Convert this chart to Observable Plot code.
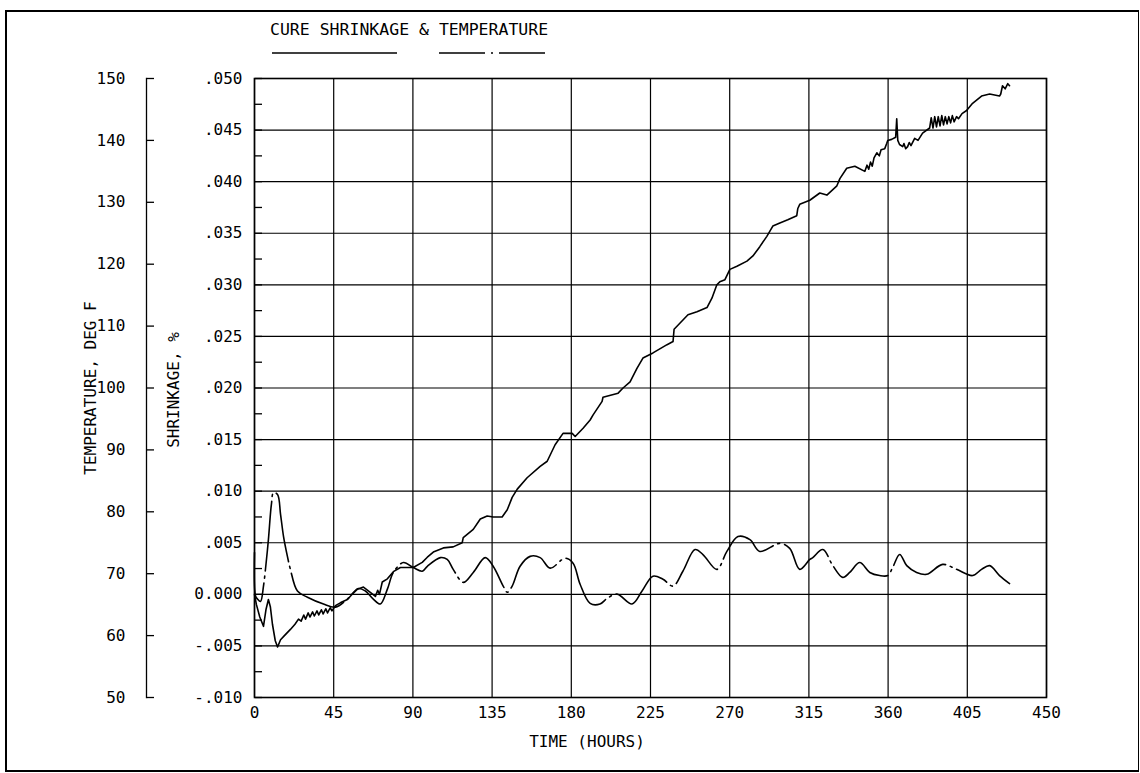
<!DOCTYPE html>
<html>
<head>
<meta charset="utf-8">
<script src="https://cdn.jsdelivr.net/npm/d3@7"></script>
<script src="https://cdn.jsdelivr.net/npm/@observablehq/plot@0.6"></script>
<style>
  body { margin: 0; background: #fff; }
  #wrap { position: relative; width: 1140px; height: 773px; font-family: "DejaVu Sans Mono", monospace; color: #000; overflow: hidden; }
  #border { position: absolute; left: 5px; top: 10px; width: 1134px; height: 762px; border: 2px solid #000; border-right-width: 1px; box-sizing: border-box; }
  #chart { position: absolute; left: 0; top: 0; }
  .t { position: absolute; font-size: 16px; line-height: 1; white-space: nowrap; }
  .rot { transform: translate(-50%, -50%) rotate(-90deg); }
  .ctr { transform: translate(-50%, -50%); }
</style>
</head>
<body>
<div id="wrap">
  <div id="border"></div>
  <div id="chart"></div>
  <div class="t" style="left:270px; top:22px; font-size:16.5px;">CURE SHRINKAGE &amp; TEMPERATURE</div>
  <svg style="position:absolute; left:0; top:45px;" width="600" height="16">
    <line x1="272" x2="397" y1="8" y2="8" stroke="#000" stroke-width="1.5"></line>
    <line x1="439" x2="547" y1="8" y2="8" stroke="#000" stroke-width="1.5" stroke-dasharray="46,6,2,6"></line>
  </svg>
  <div class="t rot" style="left:91px; top:388px;">TEMPERATURE, DEG F</div>
  <div class="t rot" style="left:174px; top:390px;">SHRINKAGE, %</div>
  <div class="t ctr" style="left:587px; top:742px;">TIME (HOURS)</div>
</div>
<script>
// ---- data ----
const xTicks = [0, 45, 90, 135, 180, 225, 270, 315, 360, 405, 450];
const shrinkTicks = [-0.010, -0.005, 0, 0.005, 0.010, 0.015, 0.020, 0.025, 0.030, 0.035, 0.040, 0.045, 0.050];
const shrinkMinorTicks = [-0.010, -0.0075, -0.005, -0.0025, 0, 0.0025, 0.005, 0.0075, 0.010, 0.0125, 0.015, 0.0175, 0.020, 0.0225, 0.025, 0.0275, 0.030, 0.0325, 0.035, 0.0375, 0.040, 0.0425, 0.045, 0.0475, 0.050];
const tempTicks = [50, 60, 70, 80, 90, 100, 110, 120, 130, 140, 150];

// cure shrinkage (%), solid line
const shrinkHours = [0, 1.1, 3, 5.1, 6.5, 7.9, 9, 10.2, 11.8, 13.1, 14.8, 17, 20.4, 23, 25.0, 26.5, 28, 29, 30.5, 31.5, 33, 34, 35.5, 36.5, 38, 39, 40.5, 41.5, 43, 44, 46.0, 49, 52.8, 56, 58.5, 61.9, 65.8, 68.7, 70, 71, 72.6, 75.5, 78.9, 82.9, 90.2, 95.3, 98.2, 101.6, 107.3, 112.9, 118.0, 118.6, 124.3, 128.3, 132.2, 135.6, 140.7, 143.6, 146.4, 149.3, 154.9, 162.3, 166.3, 170.8, 175.3, 180.5, 182.2, 186.7, 190.7, 192.4, 197.5, 198.0, 206.6, 209.4, 213.4, 217.3, 220.7, 226.4, 234.4, 237.8, 238.4, 241.8, 246.3, 251.4, 257.1, 259.9, 262.7, 264.4, 267.3, 270.1, 274.1, 279.8, 283.2, 287.1, 291.1, 294.5, 298.5, 303.0, 308.1, 308.7, 309.8, 315.5, 321.2, 325.2, 330.9, 332.6, 336.5, 341.1, 346.8, 348, 349, 350, 351, 352, 353.6, 355, 356, 358.1, 359.2, 359.8, 362, 364.3, 364.9, 365.5, 366.5, 368.3, 369, 370, 371.1, 372, 373, 375.1, 377, 379.6, 383.6, 384.5, 385.5, 386.5, 387.5, 388.5, 389.5, 390.5, 391.5, 392.5, 393.5, 394.5, 395.5, 396.5, 397.5, 398.9, 400, 402, 404.6, 408.0, 413.1, 417.7, 423.3, 424, 425.0, 426.5, 428, 429.0];
const shrinkValues = [0.0000, -0.0010, -0.0022, -0.0031, -0.0015, -0.0005, -0.0012, -0.0029, -0.0045, -0.0051, -0.0044, -0.0040, -0.0034, -0.0029, -0.0024, -0.0026, -0.0020, -0.0024, -0.0018, -0.0022, -0.0017, -0.0021, -0.0016, -0.0020, -0.0015, -0.0019, -0.0014, -0.0018, -0.0013, -0.0016, -0.0011, -0.0008, -0.0005, 0.0001, 0.0005, 0.0007, 0.0002, -0.0002, 0.0004, 0.0000, 0.0012, 0.0015, 0.0022, 0.0026, 0.0026, 0.0031, 0.0036, 0.0041, 0.0045, 0.0046, 0.0050, 0.0055, 0.0063, 0.0073, 0.0076, 0.0075, 0.0075, 0.0082, 0.0094, 0.0102, 0.0113, 0.0124, 0.0129, 0.0145, 0.0156, 0.0156, 0.0153, 0.0161, 0.0169, 0.0174, 0.0187, 0.0191, 0.0195, 0.0200, 0.0206, 0.0219, 0.0229, 0.0234, 0.0242, 0.0245, 0.0257, 0.0263, 0.0271, 0.0274, 0.0278, 0.0287, 0.0300, 0.0303, 0.0305, 0.0315, 0.0318, 0.0323, 0.0328, 0.0337, 0.0347, 0.0357, 0.0360, 0.0363, 0.0367, 0.0374, 0.0378, 0.0382, 0.0389, 0.0387, 0.0396, 0.0403, 0.0413, 0.0415, 0.0410, 0.0416, 0.0412, 0.0419, 0.0415, 0.0423, 0.0428, 0.0425, 0.0431, 0.0432, 0.0437, 0.0440, 0.0441, 0.0443, 0.0461, 0.0440, 0.0436, 0.0434, 0.0437, 0.0432, 0.0434, 0.0438, 0.0435, 0.0442, 0.0440, 0.0447, 0.0452, 0.0462, 0.0452, 0.0463, 0.0453, 0.0463, 0.0454, 0.0464, 0.0455, 0.0463, 0.0456, 0.0463, 0.0457, 0.0464, 0.0458, 0.0463, 0.0461, 0.0466, 0.0469, 0.0476, 0.0483, 0.0485, 0.0483, 0.0485, 0.0493, 0.0490, 0.0495, 0.0493];

// temperature (deg F), dash-dot line
const tempHours = [0, 0.6, 1.7, 3.4, 5.1, 6.8, 7.9, 9.6, 10.8, 13.1, 14.8, 16.5, 18.7, 20.4, 24.4, 30.1, 39.2, 46.0, 52.8, 59.0, 63.0, 67.5, 71.5, 75.5, 78.9, 84.6, 90.2, 95.3, 98.2, 105.6, 109.5, 112.9, 118.6, 124.3, 131.1, 135.6, 141.3, 143.6, 146.4, 150.9, 156.6, 162.3, 168.0, 176.5, 181.0, 185.0, 190.7, 196.3, 200.3, 206.0, 214.5, 220.2, 226.4, 232.1, 237.8, 243.4, 250.3, 254.8, 262.7, 268.4, 274.7, 281.5, 287.1, 298.5, 304.1, 309.8, 315.5, 317.2, 322.9, 328.6, 334.2, 338.2, 343.9, 349.6, 355.2, 359.8, 362.6, 366.6, 370.6, 376.2, 381.9, 391.0, 398.9, 408.0, 413.1, 417.7, 423.3, 429.0];
const tempValues = [73.4, 66.4, 65.9, 65.5, 68.0, 72.3, 75.5, 81.2, 83.1, 82.8, 79.6, 76.0, 72.8, 70.7, 67.2, 66.2, 65.1, 64.6, 65.9, 67.6, 67.2, 65.9, 65.1, 67.5, 70.2, 71.8, 71.0, 70.4, 71.2, 72.6, 72.3, 70.7, 68.6, 70.2, 72.6, 71.2, 68.0, 67.0, 68.0, 71.2, 72.8, 72.6, 70.9, 72.5, 71.7, 68.3, 65.2, 65.1, 66.0, 66.7, 65.1, 67.2, 69.6, 69.1, 68.0, 70.4, 73.9, 73.1, 70.7, 73.6, 76.0, 75.5, 73.6, 74.9, 74.1, 70.7, 72.3, 72.6, 73.9, 71.3, 69.4, 70.2, 71.8, 70.2, 69.7, 69.7, 71.0, 73.1, 71.3, 70.2, 69.9, 71.5, 70.7, 69.7, 70.7, 71.3, 69.7, 68.4];

// ---- build tables ----
const shrinkData = shrinkHours.map((h, i) => ({h, s: shrinkValues[i]}));
const tempData = tempHours.map((h, i) => ({h, t: tempValues[i]}));

// temperature (50..150) shares the frame with shrinkage (-.010...050)
const toS = t => (t - 50) * 0.0006 - 0.010;
const toT = s => Math.round((s + 0.010) / 0.0006 + 50);
const fmtS = d => Math.abs(d) < 1e-9 ? "0.000" : d3.format(".3f")(d).replace("0.", ".").replace("\u2212", "-");

const W = 1140, H = 773;
const mL = 254, mR = 94, mT = 78, mB = 76;
const innerW = W - mL - mR;
const tempAxisOffset = 108;

const chart = Plot.plot({
  width: W,
  height: H,
  marginLeft: mL,
  marginRight: mR,
  marginTop: mT,
  marginBottom: mB,
  style: {fontFamily: "'DejaVu Sans Mono', monospace", fontSize: "16px", color: "#000", background: "transparent"},
  x: {domain: [0, 450]},
  y: {domain: [-0.010, 0.050]},
  marks: [
    Plot.gridX(xTicks, {stroke: "#000", strokeOpacity: 1, strokeWidth: 1.2}),
    Plot.gridY(shrinkTicks, {stroke: "#000", strokeOpacity: 1, strokeWidth: 1.2}),
    Plot.frame({stroke: "#000", strokeWidth: 1.6}),
    Plot.axisX(xTicks, {anchor: "bottom", tickSize: 0, tickPadding: 9, label: null}),
    Plot.axisY(shrinkTicks, {anchor: "left", tickSize: 0, tickPadding: 12, tickFormat: fmtS, label: null}),
    Plot.axisY(shrinkMinorTicks, {anchor: "right", tickSize: 7, dx: -innerW, tickFormat: () => "", label: null, strokeWidth: 1.3}),
    Plot.axisY(tempTicks.map(toS), {anchor: "left", tickSize: 0, tickPadding: 21, dx: -tempAxisOffset, tickFormat: toT, label: null}),
    Plot.axisY(tempTicks.map(toS), {anchor: "right", tickSize: 7, dx: -(innerW + tempAxisOffset), tickFormat: () => "", label: null, strokeWidth: 1.3}),
    Plot.frame({anchor: "left", dx: -tempAxisOffset, stroke: "#000", strokeWidth: 1.3}),
    Plot.line(shrinkData, {x: "h", y: "s", stroke: "#000", strokeWidth: 1.6}),
    Plot.line(tempData, {x: "h", y: d => toS(d.t), curve: "catmull-rom", stroke: "#000", strokeWidth: 1.6, strokeDasharray: "70,5,2,5"})
  ]
});
document.getElementById("chart").appendChild(chart);
</script>
</body>
</html>
